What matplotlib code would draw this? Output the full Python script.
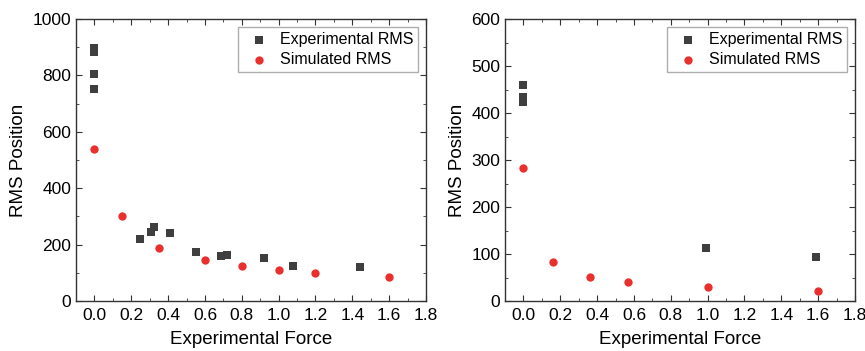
import matplotlib.pyplot as plt
from matplotlib.ticker import MultipleLocator

plt.rcParams['font.family'] = ['Liberation Sans', 'DejaVu Sans']

# left panel
exp_x1 = [0.0, 0.0, 0.0, 0.0, 0.245, 0.306, 0.321, 0.410, 0.549, 0.689, 0.721, 0.923, 1.080, 1.441]
exp_y1 = [898, 884, 805, 752, 220, 243, 261, 242, 175, 158, 162, 152, 125, 119]
sim_x1 = [0.0, 0.15, 0.35, 0.60, 0.80, 1.00, 1.20, 1.60]
sim_y1 = [538, 302, 188, 146, 125, 110, 99, 84]

# right panel
exp_x2 = [0.0, 0.0, 0.0, 0.99, 1.588]
exp_y2 = [459, 435, 423, 113, 94]
sim_x2 = [0.0, 0.16, 0.36, 0.57, 1.00, 1.60]
sim_y2 = [283, 83, 51, 40, 29, 22]

fig = plt.figure(figsize=(8.65, 3.51), dpi=100)
ax1 = fig.add_axes([76/865, 1-301/351, 350/865, 282/351])
ax2 = fig.add_axes([505/865, 1-301/351, 350/865, 282/351])

gray = '#3f3f3f'
red = '#e8312f'

def style(ax, ymax, ymaj):
    ax.set_xlim(-0.1, 1.8)
    ax.set_ylim(0, ymax)
    ax.xaxis.set_major_locator(MultipleLocator(0.2))
    ax.xaxis.set_minor_locator(MultipleLocator(0.1))
    ax.yaxis.set_major_locator(MultipleLocator(ymaj))
    ax.yaxis.set_minor_locator(MultipleLocator(ymaj/2))
    ax.xaxis.set_major_formatter(plt.FuncFormatter(lambda v, p: '%.1f' % v))
    ax.tick_params(which='both', direction='in', top=True, right=True, labelsize=12.5, color='#333333')
    ax.tick_params(which='major', length=4)
    ax.tick_params(which='minor', length=2.5)
    ax.tick_params(axis='x', pad=5)
    for s in ax.spines.values():
        s.set_color('#333333')
        s.set_linewidth(1.0)
    ax.set_xlabel('Experimental Force', fontsize=13.5, labelpad=6)
    ax.set_ylabel('RMS Position', fontsize=13.5, labelpad=4)
    leg = ax.legend(loc='upper right', fontsize=11.5, frameon=True, fancybox=False,
                    handletextpad=0.3, borderpad=0.3, labelspacing=0.35,
                    handlelength=2.0, borderaxespad=0.5)
    leg.get_frame().set_edgecolor('#999999')
    leg.get_frame().set_linewidth(1.0)

for ax, ex, ey, sx, sy in [(ax1, exp_x1, exp_y1, sim_x1, sim_y1), (ax2, exp_x2, exp_y2, sim_x2, sim_y2)]:
    ax.scatter(ex, ey, marker='s', s=34, color=gray, label='Experimental RMS', zorder=3, linewidths=0)
    ax.scatter(sx, sy, marker='o', s=36, color=red, label='Simulated RMS', zorder=3, linewidths=0)

style(ax1, 1000, 200)
style(ax2, 600, 100)

fig.savefig('out.png', dpi=100)
